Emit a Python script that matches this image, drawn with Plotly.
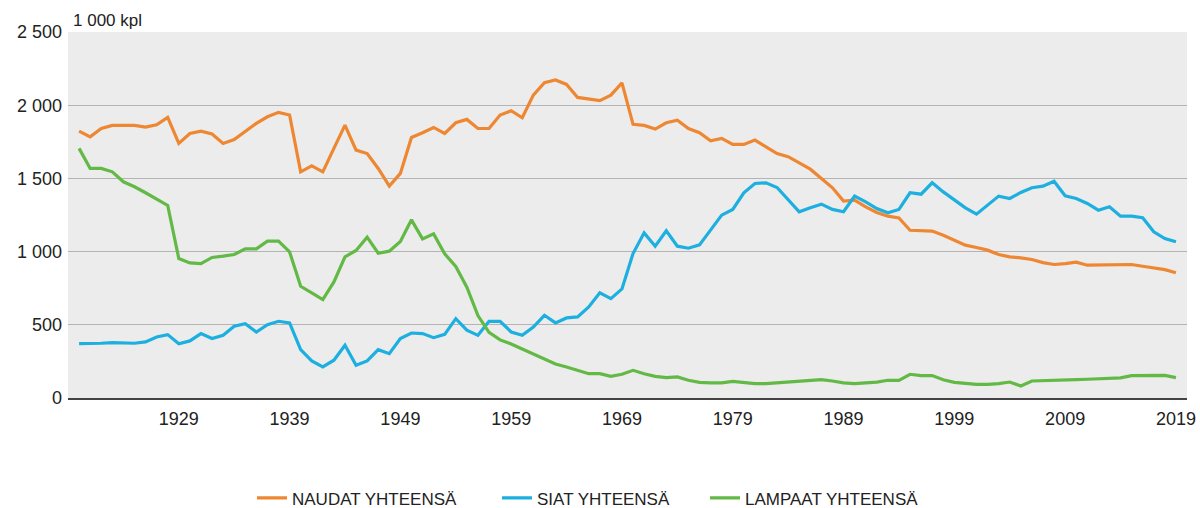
import plotly.graph_objects as go

years = list(range(1920, 2020))

naudat = [
    1823, 1784, 1841, 1862, 1862, 1862, 1850, 1866, 1917, 1739,
    1807, 1823, 1803, 1739, 1766, 1823, 1876, 1921, 1951, 1933,
    1545, 1586, 1545, 1705, 1864, 1693, 1670, 1568, 1447, 1534,
    1780, 1812, 1848, 1807, 1880, 1903, 1841, 1841, 1933, 1962,
    1914, 2069, 2154, 2172, 2142, 2053, 2044, 2031, 2069, 2152,
    1869, 1862, 1837, 1880, 1898, 1841, 1812, 1757, 1773, 1732,
    1732, 1762, 1716, 1670, 1648, 1607, 1563, 1500, 1436, 1345,
    1351, 1306, 1267, 1242, 1230, 1146, 1142, 1140, 1112, 1078,
    1044, 1028, 1010, 980, 964, 957, 946, 925, 912, 918,
    928, 907, 907, 907, 907, 912, 900, 889, 877, 855,
]

siat = [
    371, 371, 374, 378, 376, 374, 383, 417, 433, 371,
    390, 440, 406, 428, 490, 508, 451, 501, 524, 513,
    330, 253, 212, 258, 360, 223, 253, 330, 303, 406,
    444, 440, 412, 435, 542, 463, 428, 524, 524, 451,
    428, 485, 565, 513, 547, 554, 622, 718, 679, 745,
    987, 1128, 1037, 1142, 1037, 1023, 1046, 1146, 1249, 1288,
    1402, 1465, 1470, 1438, 1356, 1272, 1299, 1324, 1288, 1272,
    1379, 1340, 1294, 1265, 1288, 1402, 1392, 1470, 1408, 1351,
    1299, 1256, 1317, 1379, 1363, 1404, 1436, 1447, 1481, 1381,
    1363, 1329, 1283, 1306, 1242, 1242, 1231, 1135, 1089, 1067,
]

lampaat = [
    1705, 1568, 1568, 1545, 1477, 1443, 1402, 1358, 1315, 953,
    923, 918, 960, 969, 980, 1019, 1019, 1071, 1071, 998,
    763, 718, 672, 793, 964, 1008, 1099, 989, 1003, 1069,
    1217, 1087, 1121, 985, 898, 757, 563, 449, 397, 369,
    335, 301, 271, 232, 212, 189, 166, 166, 148, 162,
    189, 166, 148, 139, 144, 121, 107, 103, 103, 114,
    105, 98, 98, 103, 109, 112, 116, 125, 116, 103,
    98, 103, 109, 121, 121, 162, 153, 153, 125, 107,
    98, 93, 93, 98, 109, 82, 116, 118, 121, 118,
    125, 128, 130, 134, 137, 153, 155, 155, 155, 139,
]

series_names = ["NAUDAT YHTEENSÄ", "SIAT YHTEENSÄ", "LAMPAAT YHTEENSÄ"]
colors = ["#EE8732", "#1DAFE0", "#62B946"]

x_ticks = [1929, 1939, 1949, 1959, 1969, 1979, 1989, 1999, 2009, 2019]
y_ticks = [0, 500, 1000, 1500, 2000, 2500]
y_tick_labels = ["0", "500", "1 000", "1 500", "2 000", "2 500"]
unit_label = "1 000 kpl"

FONT = "Liberation Sans, Arial, sans-serif"
legend_ids = ["legend", "legend2", "legend3"]
legend_x = [252, 497, 705]

fig = go.Figure()
for name, vals, col, lid in zip(series_names, [naudat, siat, lampaat], colors, legend_ids):
    fig.add_trace(go.Scatter(
        x=years, y=vals, mode="lines", name=name,
        line=dict(color=col, width=3.2), legend=lid,
    ))

legend_common = dict(
    orientation="h",
    xref="container", yref="container",
    xanchor="left", yanchor="middle",
    y=0.019,
    font=dict(family=FONT, size=17, color="#222222"),
    bgcolor="rgba(0,0,0,0)",
)

layout_legends = {}
for lid, lx in zip(legend_ids, legend_x):
    layout_legends[lid] = dict(legend_common, x=lx / 1200)

fig.update_layout(
    width=1200, height=508,
    margin=dict(l=68, r=13, t=32, b=110, autoexpand=False),
    paper_bgcolor="white",
    plot_bgcolor="#ECECEC",
    font=dict(family=FONT, size=18, color="#222222"),
    showlegend=True,
    xaxis=dict(
        range=[1919.0, 2020.0],
        tickmode="array", tickvals=x_ticks,
        ticktext=[str(t) for t in x_ticks],
        showgrid=False, zeroline=False,
        showline=True, linecolor="#444444", linewidth=1.5,
        ticks="", ticklabelstandoff=4,
        tickfont=dict(family=FONT, size=18, color="#222222"),
    ),
    yaxis=dict(
        range=[0, 2500],
        tickmode="array", tickvals=y_ticks, ticktext=y_tick_labels,
        showgrid=True, gridcolor="#B4B4B4", gridwidth=1,
        zeroline=False, showline=False, ticks="",
        ticklabelstandoff=5,
        tickfont=dict(family=FONT, size=18, color="#222222"),
    ),
    annotations=[dict(
        text=unit_label, xref="paper", yref="paper",
        x=0, y=1.031, xanchor="left", yanchor="middle",
        xshift=3, showarrow=False,
        font=dict(family=FONT, size=17, color="#222222"),
    )],
    **layout_legends,
)

fig.write_html(
    "out.html",
    config={"displayModeBar": False},
    post_script="document.body.style.margin='0';document.body.style.overflow='hidden';",
)
